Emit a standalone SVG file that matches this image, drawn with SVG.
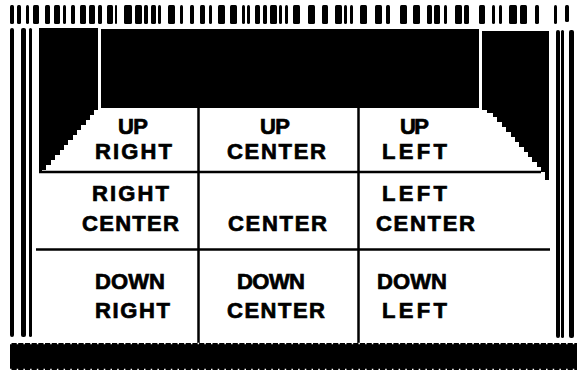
<svg xmlns="http://www.w3.org/2000/svg" width="577" height="373" viewBox="0 0 577 373">
<style>
.tk{fill:#000}
.ln{stroke:#000;stroke-width:2.5;fill:none}
.bk{fill:#000}
.t{font-family:"Liberation Sans",Arial,sans-serif;font-weight:bold;font-size:22px;fill:#000;stroke:#000;stroke-width:0.7}
</style>
<rect width="577" height="373" fill="#fff"/>
<g id="valance">
<rect class="tk" x="10" y="5" width="4" height="19" rx="1.5"/>
<rect class="tk" x="17" y="5" width="4" height="19" rx="1.5"/>
<rect class="tk" x="26" y="5" width="3" height="19" rx="1.5"/>
<rect class="tk" x="33" y="5" width="6" height="19" rx="1.5"/>
<rect class="tk" x="45" y="5" width="5" height="19" rx="1.5"/>
<rect class="tk" x="54" y="5" width="6" height="19" rx="1.5"/>
<rect class="tk" x="63" y="5" width="3" height="19" rx="1.5"/>
<rect class="tk" x="71" y="5" width="4" height="19" rx="1.5"/>
<rect class="tk" x="80" y="5" width="6" height="19" rx="1.5"/>
<rect class="tk" x="89" y="5" width="6" height="19" rx="1.5"/>
<rect class="tk" x="98" y="5" width="4" height="19" rx="1.5"/>
<rect class="tk" x="107" y="5" width="6" height="19" rx="1.5"/>
<rect class="tk" x="115" y="5" width="2" height="19" rx="1"/>
<rect class="tk" x="124" y="5" width="8" height="19" rx="1.5"/>
<rect class="tk" x="135" y="5" width="7" height="19" rx="1.5"/>
<rect class="tk" x="144" y="5" width="4" height="19" rx="1.5"/>
<rect class="tk" x="151" y="5" width="5" height="19" rx="1.5"/>
<rect class="tk" x="158" y="5" width="3" height="19" rx="1.5"/>
<rect class="tk" x="168" y="5" width="7" height="19" rx="1.5"/>
<rect class="tk" x="180" y="5" width="3" height="19" rx="1.5"/>
<rect class="tk" x="190" y="5" width="4" height="19" rx="1.5"/>
<rect class="tk" x="200" y="5" width="5" height="19" rx="1.5"/>
<rect class="tk" x="209" y="5" width="3" height="19" rx="1.5"/>
<rect class="tk" x="218" y="5" width="7" height="19" rx="1.5"/>
<rect class="tk" x="230" y="5" width="7" height="19" rx="1.5"/>
<rect class="tk" x="242" y="5" width="3" height="19" rx="1.5"/>
<rect class="tk" x="247" y="5" width="3" height="19" rx="1.5"/>
<rect class="tk" x="255" y="5" width="5" height="19" rx="1.5"/>
<rect class="tk" x="263" y="5" width="4" height="19" rx="1.5"/>
<rect class="tk" x="270" y="5" width="7" height="19" rx="1.5"/>
<rect class="tk" x="279" y="5" width="3" height="19" rx="1.5"/>
<rect class="tk" x="285" y="5" width="3" height="19" rx="1.5"/>
<rect class="tk" x="293" y="5" width="7" height="19" rx="1.5"/>
<rect class="tk" x="308" y="5" width="7" height="19" rx="1.5"/>
<rect class="tk" x="322" y="5" width="6" height="19" rx="1.5"/>
<rect class="tk" x="335" y="5" width="7" height="19" rx="1.5"/>
<rect class="tk" x="344" y="5" width="3" height="19" rx="1.5"/>
<rect class="tk" x="350" y="5" width="3" height="19" rx="1.5"/>
<rect class="tk" x="360" y="5" width="7" height="19" rx="1.5"/>
<rect class="tk" x="375" y="5" width="7" height="19" rx="1.5"/>
<rect class="tk" x="386" y="5" width="4" height="19" rx="1.5"/>
<rect class="tk" x="400" y="5" width="7" height="19" rx="1.5"/>
<rect class="tk" x="413" y="5" width="7" height="19" rx="1.5"/>
<rect class="tk" x="427" y="5" width="5" height="19" rx="1.5"/>
<rect class="tk" x="434" y="5" width="6" height="19" rx="1.5"/>
<rect class="tk" x="444" y="5" width="3" height="19" rx="1.5"/>
<rect class="tk" x="455" y="5" width="7" height="19" rx="1.5"/>
<rect class="tk" x="464" y="5" width="5" height="19" rx="1.5"/>
<rect class="tk" x="479" y="5" width="6" height="19" rx="1.5"/>
<rect class="tk" x="492" y="5" width="3" height="19" rx="1.5"/>
<rect class="tk" x="499" y="5" width="3" height="19" rx="1.5"/>
<rect class="tk" x="509" y="5" width="8" height="19" rx="1.5"/>
<rect class="tk" x="520" y="5" width="7" height="19" rx="1.5"/>
<rect class="tk" x="535" y="5" width="4" height="19" rx="1.5"/>
<rect class="tk" x="554" y="5" width="3" height="19" rx="1.5"/>
<rect class="tk" x="565" y="5" width="4" height="17" rx="1.5"/>
</g>
<g id="curtains">
<rect class="bk" x="10" y="28" width="4" height="309" rx="2"/>
<rect class="bk" x="21" y="28" width="5" height="309" rx="2"/>
<rect class="bk" x="29" y="28" width="3" height="309" rx="1.5"/>
<rect class="bk" x="556" y="30" width="4" height="308" rx="2"/>
<rect class="bk" x="561" y="30" width="3" height="308" rx="1.5"/>
<rect class="bk" x="569" y="30" width="5" height="308" rx="2"/>
</g>
<g id="backdrop">
<rect class="bk" x="101" y="29" width="378" height="79"/>
</g>
<g id="left-wing">
<path class="bk" d="M39,28 H98 V110 H94 V115 H90 V120 H86 V125 H81 V130 H77 V135 H73 V140 H68 V145 H64 V150 H60 V155 H55 V160 H51 V165 H46 V170 H42 V173 H39 Z"/>
</g>
<g id="right-wing">
<path class="bk" d="M482,31 H549 V180 H545 V172 H541 V167 H537 V162 H532 V157 H528 V152 H524 V147 H519 V142 H515 V137 H511 V132 H506 V127 H502 V122 H497 V117 H493 V113 H487 V110 H482 Z"/>
</g>
<g id="grid">
<line class="ln" x1="39" y1="172" x2="541" y2="172"/>
<line class="ln" x1="36" y1="249.5" x2="550" y2="249.5"/>
<line class="ln" x1="198.5" y1="108" x2="198.5" y2="343"/>
<line class="ln" x1="358.5" y1="108" x2="358.5" y2="343"/>
</g>
<g id="apron">
<rect class="bk" x="10" y="343" width="567" height="27"/>
<line x1="10" y1="343.5" x2="577" y2="343.5" stroke="#fff" stroke-width="1.5" stroke-dasharray="1.5 5.2"/>
<line x1="10" y1="369.5" x2="577" y2="369.5" stroke="#fff" stroke-width="1.5" stroke-dasharray="1.5 5.2"/>
</g>
<g id="up-right">
<text class="t" x="118" y="134" textLength="30" lengthAdjust="spacing">UP</text>
<text class="t" x="95" y="159" textLength="77" lengthAdjust="spacing">RIGHT</text>
</g>
<g id="up-center">
<text class="t" x="260" y="134" textLength="30" lengthAdjust="spacing">UP</text>
<text class="t" x="227" y="159" textLength="99" lengthAdjust="spacing">CENTER</text>
</g>
<g id="up-left">
<text class="t" x="400" y="134" textLength="29" lengthAdjust="spacing">UP</text>
<text class="t" x="382" y="159" textLength="65" lengthAdjust="spacing">LEFT</text>
</g>
<g id="right-center">
<text class="t" x="92" y="201" textLength="77" lengthAdjust="spacing">RIGHT</text>
<text class="t" x="82" y="231" textLength="97" lengthAdjust="spacing">CENTER</text>
</g>
<g id="center">
<text class="t" x="228" y="231" textLength="99" lengthAdjust="spacing">CENTER</text>
</g>
<g id="left-center">
<text class="t" x="382" y="201" textLength="65" lengthAdjust="spacing">LEFT</text>
<text class="t" x="376" y="231" textLength="99" lengthAdjust="spacing">CENTER</text>
</g>
<g id="down-right">
<text class="t" x="95" y="289" textLength="70" lengthAdjust="spacing">DOWN</text>
<text class="t" x="95" y="318" textLength="75" lengthAdjust="spacing">RIGHT</text>
</g>
<g id="down-center">
<text class="t" x="237" y="289" textLength="68" lengthAdjust="spacing">DOWN</text>
<text class="t" x="227" y="318" textLength="98" lengthAdjust="spacing">CENTER</text>
</g>
<g id="down-left">
<text class="t" x="377" y="289" textLength="70" lengthAdjust="spacing">DOWN</text>
<text class="t" x="382" y="318" textLength="65" lengthAdjust="spacing">LEFT</text>
</g>
</svg>
